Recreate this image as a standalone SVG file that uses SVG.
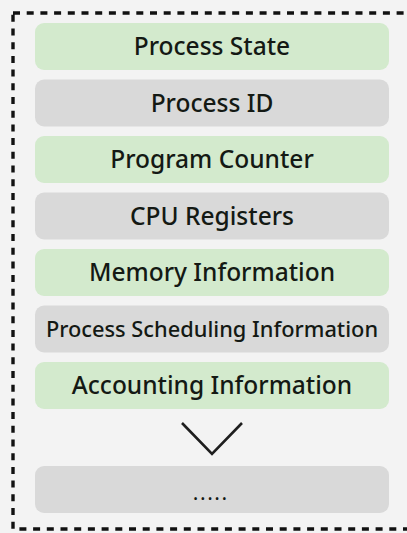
<svg xmlns="http://www.w3.org/2000/svg" width="407" height="533" viewBox="0 0 407 533">
  <style>
    .box { stroke: none; }
    .green { fill: #d3eacd; }
    .grey { fill: #d9d9d9; }
    .label { font-family: "Noto Sans", "Open Sans", "DejaVu Sans", sans-serif; font-weight: 500; font-size: 24.5px; fill: #141914; text-anchor: middle; }
    .small { font-size: 21.8px; }
    .dots { font-size: 19px; }
    .frame { fill: none; stroke: #111; stroke-width: 3.4; stroke-dasharray: 7 6.7; }
  </style>
  <!-- page background -->
  <rect x="0" y="0" width="407" height="533" fill="#f3f3f3"/>
  <!-- dashed outline of the block (right side runs off the page) -->
  <rect class="frame" x="13" y="13" width="420" height="516"/>

  <g id="process-state">
    <rect class="box green" x="35" y="23" width="354" height="47" rx="9"/>
    <text class="label" x="212" y="55">Process State</text>
  </g>
  <g id="process-id">
    <rect class="box grey" x="35" y="79.5" width="354" height="47" rx="9"/>
    <text class="label" x="212" y="111.5">Process ID</text>
  </g>
  <g id="program-counter">
    <rect class="box green" x="35" y="136" width="354" height="47" rx="9"/>
    <text class="label" x="212" y="168">Program Counter</text>
  </g>
  <g id="cpu-registers">
    <rect class="box grey" x="35" y="192.5" width="354" height="47" rx="9"/>
    <text class="label" x="212" y="224.5">CPU Registers</text>
  </g>
  <g id="memory-information">
    <rect class="box green" x="35" y="249" width="354" height="47" rx="9"/>
    <text class="label" x="212" y="281">Memory Information</text>
  </g>
  <g id="process-scheduling-information">
    <rect class="box grey" x="35" y="305.5" width="354" height="47" rx="9"/>
    <text class="label small" x="212" y="336.5">Process Scheduling Information</text>
  </g>
  <g id="accounting-information">
    <rect class="box green" x="35" y="362" width="354" height="47" rx="9"/>
    <text class="label" x="212" y="394">Accounting Information</text>
  </g>
  <g id="more">
    <rect class="box grey" x="35" y="466" width="354" height="47" rx="9"/>
    <text class="label dots" x="211" y="500" letter-spacing="2">.....</text>
  </g>

  <g id="connectors">
    <polyline points="182,423 212,454 242,423" fill="none" stroke="#1e1e1e" stroke-width="2.6" stroke-linejoin="miter"/>
  </g>
</svg>
